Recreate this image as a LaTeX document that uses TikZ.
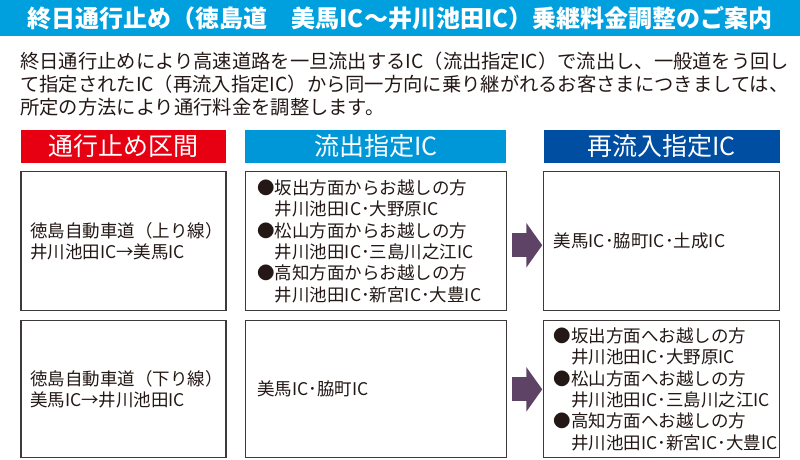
\documentclass[tikz,border=0pt]{standalone}
\usepackage{fontspec}
\setmainfont{Noto Sans CJK JP}
\usepackage{tikz}
\usetikzlibrary{arrows.meta,positioning}
\definecolor{barcyan}{RGB}{0,160,222}
\definecolor{secred}{RGB}{230,0,18}
\definecolor{outblue}{RGB}{0,151,216}
\definecolor{reblue}{RGB}{0,78,162}
\definecolor{flowpurple}{RGB}{95,67,102}
\definecolor{framegray}{RGB}{62,58,57}
\definecolor{inkgray}{RGB}{35,24,21}
\tikzstyle{colhead}=[rectangle,inner sep=0pt,minimum height=33pt,text=white,font=\fontsize{25}{25}\selectfont]
\tikzstyle{infobox}=[rectangle,draw=framegray,line width=1.1pt,align=left,text=inkgray,font=\fontsize{17.5}{21.3}\selectfont]
\tikzstyle{flow}=[-{Triangle[length=16pt,width=44pt]},line width=24pt,draw=flowpurple,shorten <=5pt,shorten >=1pt]

\begin{document}
\begin{tikzpicture}[x=1pt,y=-1pt]
    \useasboundingbox (0,0) rectangle (800,460);

    % Kopf
    \fill[barcyan] (0,0) rectangle (800,36);
    \node[text=white,font=\fontsize{24}{24}\selectfont\bfseries] (title) at (400,18) {終日通行止め（徳島道　美馬IC～井川池田IC）乗継料金調整のご案内};
    \node[anchor=base west,align=left,text width=770pt,inner sep=0pt,text=inkgray,font=\fontsize{19.3}{22.5}\selectfont] (intro) at (20,69)
        {終日通行止めにより高速道路を一旦流出するIC（流出指定IC）で流出し、一般道をう回し\\
         て指定されたIC（再流入指定IC）から同一方向に乗り継がれるお客さまにつきましては、\\
         所定の方法により通行料金を調整します。};

    % Spalten
    \node[colhead, fill=secred, minimum width=205pt] (hsec) at (123.5,146.5) {通行止め区間};
    \node[colhead, fill=outblue, minimum width=261pt] (hout) [right=19pt of hsec] {流出指定IC};
    \node[colhead, fill=reblue, minimum width=236pt] (hre) [right=37pt of hout] {再流入指定IC};

    % Kästen
    \node[infobox, minimum width=205pt, minimum height=139pt, text width=187pt, inner xsep=9pt] (sec1) [below=8pt of hsec] {徳島自動車道（上り線）\\井川池田IC→美馬IC};
    \node[infobox, minimum width=261pt, minimum height=139pt, text width=237pt, inner xsep=12pt] (out1) [below=8pt of hout]
        {●坂出方面からお越しの方\\　井川池田IC･大野原IC\\●松山方面からお越しの方\\　井川池田IC･三島川之江IC\\●高知方面からお越しの方\\　井川池田IC･新宮IC･大豊IC};
    \node[infobox, minimum width=236pt, minimum height=139pt, text width=216pt, inner xsep=10pt] (re1) [below=8pt of hre] {美馬IC･脇町IC･土成IC};
    \node[infobox, minimum width=205pt, minimum height=137pt, text width=187pt, inner xsep=9pt] (sec2) [below=9pt of sec1] {徳島自動車道（下り線）\\美馬IC→井川池田IC};
    \node[infobox, minimum width=261pt, minimum height=137pt, text width=237pt, inner xsep=12pt] (out2) [below=9pt of out1] {美馬IC･脇町IC};
    \node[infobox, minimum width=236pt, minimum height=137pt, text width=216pt, inner xsep=10pt] (re2) [below=9pt of re1]
        {●坂出方面へお越しの方\\　井川池田IC･大野原IC\\●松山方面へお越しの方\\　井川池田IC･三島川之江IC\\●高知方面へお越しの方\\　井川池田IC･新宮IC･大豊IC};

    % Pfeile
    \draw [flow] ([yshift=-4pt]out1.east) -- ([yshift=-4pt]re1.west);
    \draw [flow] (out2) -- (re2);

\end{tikzpicture}
\end{document}
